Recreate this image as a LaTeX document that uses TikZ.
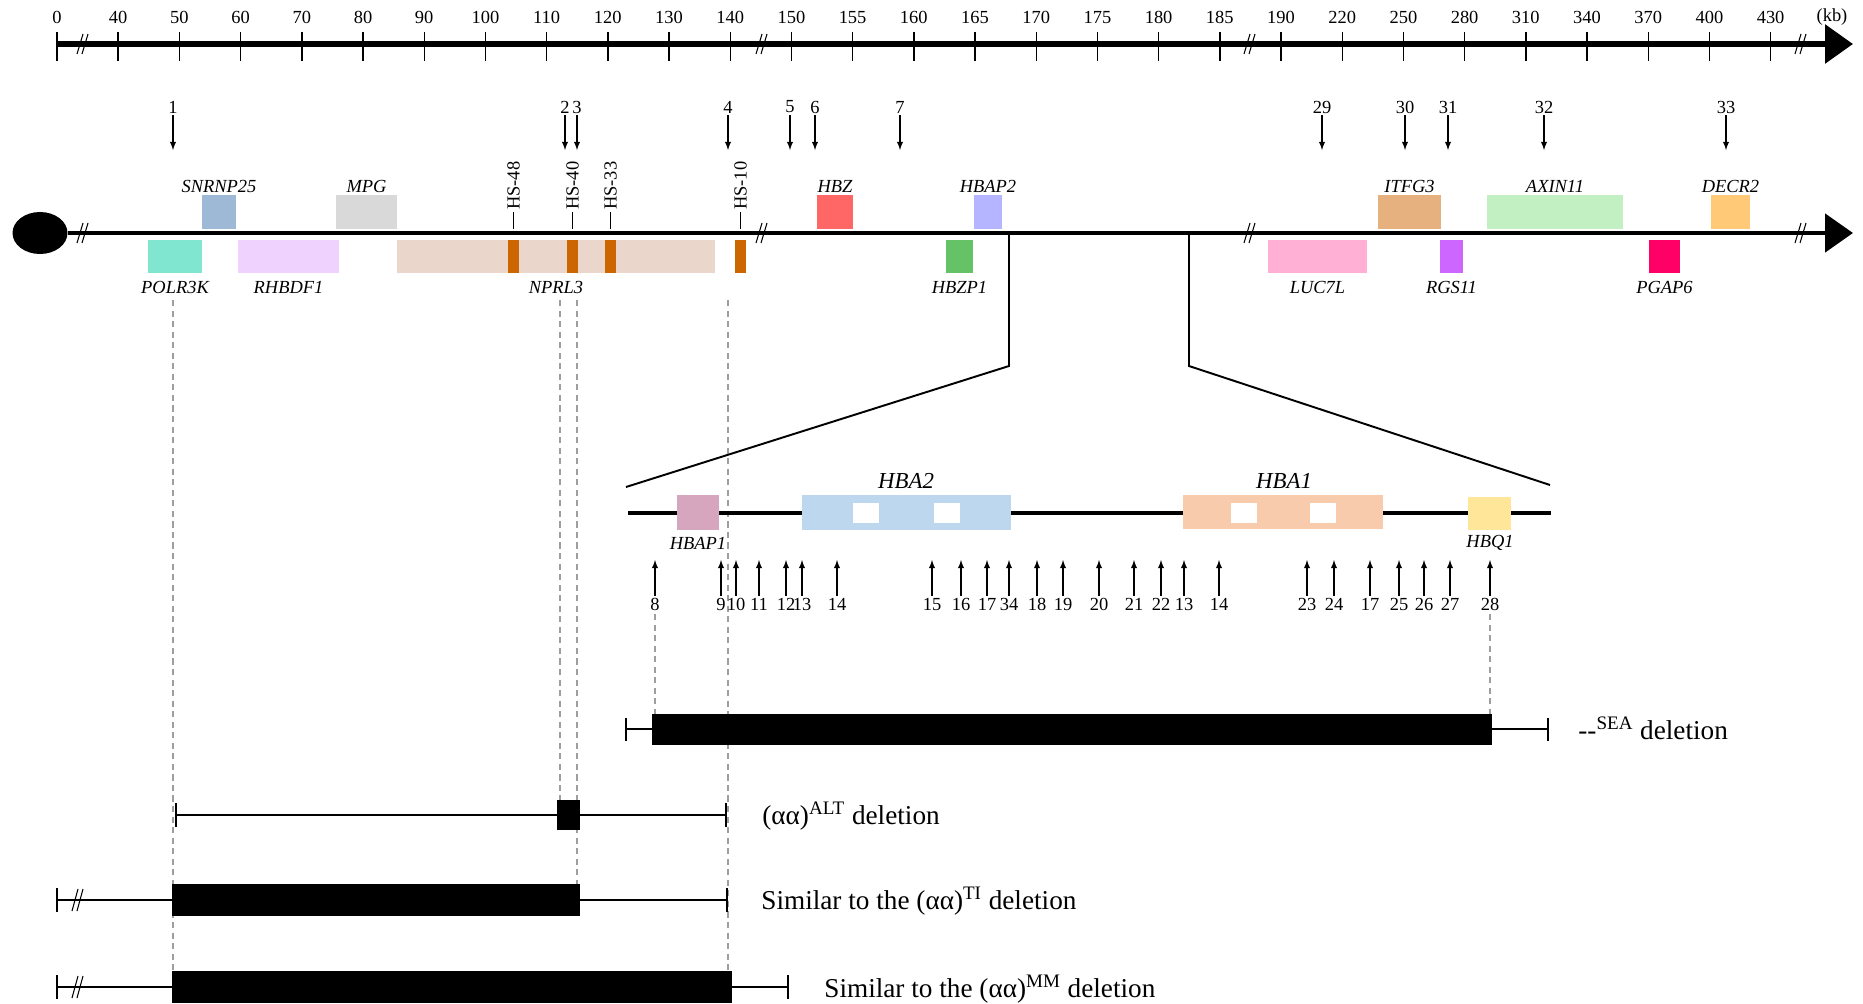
\documentclass[tikz,border=0pt]{standalone}
\usepackage{fontspec}
\setmainfont{Liberation Serif}
\usetikzlibrary{arrows.meta,shapes.geometric}

\definecolor{cSNRNP}{HTML}{9DB9D5}
\definecolor{cMPG}{HTML}{D9D9D9}
\definecolor{cHBZ}{HTML}{FF6666}
\definecolor{cHBAPb}{HTML}{B4B4FF}
\definecolor{cITFG}{HTML}{E6B17E}
\definecolor{cAXIN}{HTML}{C3F0C3}
\definecolor{cDECR}{HTML}{FFC978}
\definecolor{cPOLR}{HTML}{80E6CF}
\definecolor{cRHBDF}{HTML}{F0D2FF}
\definecolor{cNPRL}{HTML}{EAD6CA}
\definecolor{cHS}{HTML}{CC6600}
\definecolor{cHBZP}{HTML}{66C266}
\definecolor{cLUC}{HTML}{FFB0D4}
\definecolor{cRGS}{HTML}{CC66FF}
\definecolor{cPGAP}{HTML}{FF0066}
\definecolor{cHBAPa}{HTML}{D5A6BD}
\definecolor{cHBAtwo}{HTML}{BDD7EE}
\definecolor{cHBAone}{HTML}{F8CBAD}
\definecolor{cHBQ}{HTML}{FFE699}

\begin{document}
\begin{tikzpicture}[x=0.02cm,y=-0.02cm,>=latex,
  num/.style={font=\fontsize{10.5}{12}\selectfont,inner sep=1pt},
  gname/.style={font=\fontsize{10.5}{12}\selectfont\itshape,inner sep=1pt},
  bigname/.style={font=\fontsize{13}{15}\selectfont\itshape,inner sep=1pt},
  hslabel/.style={font=\fontsize{10.5}{12}\selectfont,rotate=90,anchor=west,inner sep=1pt},
  dlabel/.style={font=\fontsize{15.5}{18}\selectfont,anchor=base west,inner sep=0pt},
  guide/.style={draw=black!38,line width=0.6pt,dash pattern=on 3.5pt off 2.5pt},
  brk/.style={line width=0.6pt},
  delline/.style={line width=0.8pt},
  bigarrow/.style={-{Triangle[length=0.56cm,width=0.76cm]}}]
\useasboundingbox (0,0) rectangle (1863,1004);

% guides
\foreach \x/\ya/\yb in {173/300/971,560/300/800,577/300/884,728/300/971,655/614/714,1490/614/714}
  \draw[guide] (\x,\ya) -- (\x,\yb);

% kb scale
\draw[line width=3.4pt,bigarrow] (57,44) -- (1853,44);
\foreach \lab [count=\i from 0] in {0,40,50,60,70,80,90,100,110,120,130,140,150,155,160,165,170,175,180,185,190,220,250,280,310,340,370,400,430} {
  \draw[line width=0.8pt] ({57+61.2*\i},32) -- ({57+61.2*\i},61);
  \node[num] (kb\i) at ({57+61.2*\i},17) {\lab};
}
\node[num] (kb) at (1832,17) {(kb)};
\foreach \xb in {83,762,1250,1801}
  \draw[brk] (\xb-6,54) -- (\xb,34) (\xb-1,54) -- (\xb+5,34);

% breakpoints above
\foreach \x/\n in {173/1,565/2,577/3,728/4,790/5,815/6,900/7,1322/29,1405/30,1448/31,1544/32,1726/33} {
  \node[num] (m\n) at (\x,107) {\n};
  \draw[->,line width=0.6pt] (m\n.south) -- (\x,150);
}

% chromosome
\node[ellipse,fill,minimum width=1.1cm,minimum height=0.84cm,inner sep=0pt] (cen) at (40,233) {};
\draw[line width=2.8pt,bigarrow] (cen.east) -- (1853,233);
\foreach \xb in {83,762,1250,1801}
  \draw[brk] (\xb-6,243) -- (\xb,223) (\xb-1,243) -- (\xb+5,223);

% genes, upper strand
\foreach \xa/\xb/\col/\g in {202/236/cSNRNP/SNRNP25,336/397/cMPG/MPG,817/853/cHBZ/HBZ,974/1002/cHBAPb/HBAP2,1378/1441/cITFG/ITFG3,1487/1623/cAXIN/AXIN11,1711/1750/cDECR/DECR2} {
  \fill[\col] (\xa,195) rectangle (\xb,229);
  \node[gname] (\g) at ({(\xa+\xb)/2},186) {\g};
}
% genes, lower strand
\foreach \xa/\xb/\col/\g in {148/202/cPOLR/POLR3K,238/339/cRHBDF/RHBDF1,397/715/cNPRL/NPRL3,946/973/cHBZP/HBZP1,1268/1367/cLUC/LUC7L,1440/1463/cRGS/RGS11,1649/1680/cPGAP/PGAP6} {
  \fill[\col] (\xa,240) rectangle (\xb,273);
  \node[gname] (\g) at ({(\xa+\xb)/2},287) {\g};
}
% HS sites
\foreach \xa/\xb/\s in {508/519/48,567/578/40,605/616/33,735/746/10} {
  \fill[cHS] (\xa,240) rectangle (\xb,273);
  \node[hslabel] (hs\s) at ({(\xa+\xb)/2},212) {HS-\s};
  \draw[line width=0.8pt] (hs\s.west) -- ({(\xa+\xb)/2},229);
}

% zoom
\coordinate (zla) at (1009,234);
\coordinate (zlb) at (1009,366);
\coordinate (zlc) at (626,487);
\coordinate (zra) at (1189,234);
\coordinate (zrb) at (1189,366);
\coordinate (zrc) at (1550,485);
\draw[line width=1.1pt] (zla) -- (zlb) -- (zlc);
\draw[line width=1.1pt] (zra) -- (zrb) -- (zrc);

% alpha-globin cluster
\draw[line width=2.8pt] (628,513) -- (1551,513);
\fill[cHBAPa] (677,495) rectangle (719,530);
\fill[cHBAtwo] (802,495) rectangle (1011,530);
\fill[cHBAone] (1183,495) rectangle (1383,529);
\fill[cHBQ] (1468,497) rectangle (1511,530);
\foreach \xa in {853,934,1231,1310}
  \fill[white] (\xa,503) rectangle (\xa+26,523);
\node[gname] (HBAP1) at (698,543) {HBAP1};
\node[bigname] (HBA2) at (906,481) {HBA2};
\node[bigname] (HBA1) at (1284,481) {HBA1};
\node[gname] (HBQ1) at (1490,543) {HBQ1};

% breakpoints below
\foreach \x/\n [count=\k] in {655/8,721/9,736/10,759/11,786/12,802/13,837/14,932/15,961/16,987/17,1009/34,1037/18,1063/19,1099/20,1134/21,1161/22,1184/13,1219/14,1307/23,1334/24,1370/17,1399/25,1424/26,1450/27,1490/28} {
  \node[num] (s\k) at (\x,604) {\n};
  \draw[->,line width=0.6pt] (s\k.north) -- (\x,560);
}

% deletions
\draw[delline] (626,718) -- (626,741) (626,729) -- (1548,729) (1548,718) -- (1548,741);
\fill (652,714) rectangle (1492,745);
\node[dlabel] (sea) at (1578,739) {-{}-\textsuperscript{SEA} deletion};

\draw[delline] (176,803) -- (176,827) (176,815) -- (726,815) (726,803) -- (726,827);
\fill (557,800) rectangle (580,830);
\node[dlabel] (alt) at (762,824) {(αα)\textsuperscript{ALT} deletion};

\draw[delline] (57,888) -- (57,912) (57,900) -- (727,900) (727,888) -- (727,912);
\draw[brk] (72,911) -- (78,889) (77,911) -- (83,889);
\fill (172,884) rectangle (580,916);
\node[dlabel] (ti) at (761,909) {Similar to the (αα)\textsuperscript{TI} deletion};

\draw[delline] (57,975) -- (57,999) (57,987) -- (788,987) (788,975) -- (788,999);
\draw[brk] (72,998) -- (78,976) (77,998) -- (83,976);
\fill (172,971) rectangle (732,1003);
\node[dlabel] (mm) at (824,997) {Similar to the (αα)\textsuperscript{MM} deletion};
\end{tikzpicture}
\end{document}
